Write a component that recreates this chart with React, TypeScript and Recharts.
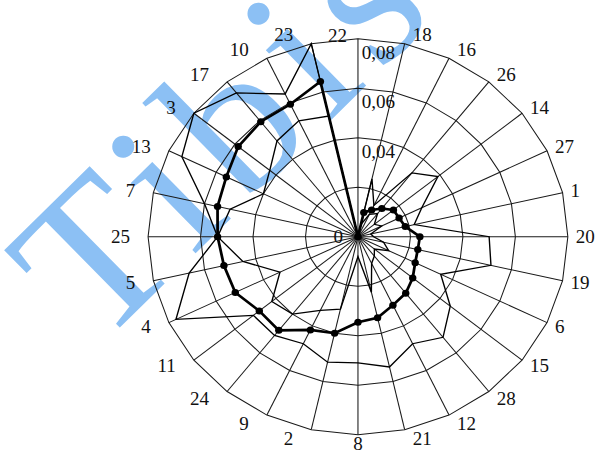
import { RadarChart, Radar, PolarGrid, PolarAngleAxis, PolarRadiusAxis } from 'recharts';

const categories = ['22', '18', '16', '26', '14', '27', '1', '20', '19', '6', '15', '28', '12', '21', '8', '2', '9', '24', '11', '4', '5', '25', '7', '13', '3', '17', '10', '23'];
const meanValues = [0, 0.01, 0.012, 0.0146, 0.0173, 0.0174, 0.0185, 0.0236, 0.0234, 0.0242, 0.0267, 0.0292, 0.0307, 0.0336, 0.0346, 0.04, 0.0418, 0.0484, 0.0481, 0.0519, 0.0524, 0.0535, 0.0549, 0.0557, 0.0584, 0.0594, 0.0594, 0.0643];
const upperValues = [0, 0.024, 0.014, 0.033, 0.039, 0.027, 0.022, 0.05, 0.052, 0.035, 0.045, 0.052, 0.048, 0.054, 0.051, 0.052, 0.048, 0.051, 0.051, 0.077, 0.066, 0.0535, 0.06, 0.0745, 0.08, 0.0743, 0.064, 0.08];
const lowerValues = [0, 0.005, 0.01, 0.012, 0.008, 0.01, 0.005, 0.006, 0.01, 0.013, 0.008, 0.01, 0.012, 0.023, 0.008, 0.03, 0.033, 0.04, 0.042, 0.033, 0.045, 0.0535, 0.05, 0.04, 0.043, 0.0495, 0.052, 0.05];
const radiusTicks = [0, 0.02, 0.04, 0.06, 0.08];
const hiddenTicks = [0.02];

const data = categories.map((cat, i) => ({
  cat,
  mean: meanValues[i],
  upper: upperValues[i],
  lower: lowerValues[i],
}));

// the source picture is stretched a bit horizontally, so the svg is scaled
const SX = 1.06;
const W = 562;
const H = 452;
const CX = 337.7;
const CY = 236.7;
const R = 198;
const FONT = "'Liberation Serif', 'Times New Roman', serif";

function AngleTick(props: any) {
  const { x, y, payload } = props;
  const dx = x - CX;
  const dy = y - CY;
  const d = Math.sqrt(dx * dx + dy * dy) || 1;
  const ux = dx / d;
  const uy = dy / d;
  const tipX = CX + ux * R;
  const tipY = CY + uy * R;
  let tx = tipX;
  let ty = tipY + uy * 9;
  let anchor: 'start' | 'end' | 'middle' = 'middle';
  if (ux > 0.05) {
    anchor = 'start';
    tx = tipX + 8 / SX;
  } else if (ux < -0.05) {
    anchor = 'end';
    tx = tipX - 18 / SX;
  } else if (uy < 0) {
    anchor = 'end';
    tx = tipX - 11 / SX;
    ty = tipY - 3;
  } else {
    ty = tipY + 9;
  }
  return (
    <text x={tx} y={ty} textAnchor={anchor} dominantBaseline="central" fontSize={18} fontFamily={FONT} fill="#111">
      {payload.value}
    </text>
  );
}

function RadiusTick(props: any) {
  const { x, y, payload } = props;
  const v = payload.value;
  if (hiddenTicks.includes(v)) return <g />;
  if (v === 0) {
    return (
      <text x={x - 14} y={y} textAnchor="end" dominantBaseline="central" fontSize={18} fontFamily={FONT} fill="#111">
        0
      </text>
    );
  }
  return (
    <text x={x + 3.5} y={y + 14} textAnchor="start" dominantBaseline="central" fontSize={18} fontFamily={FONT} fill="#111">
      {v.toFixed(2).replace('.', ',')}
    </text>
  );
}

function Marker(props: any) {
  const { cx, cy } = props;
  if (cx == null || cy == null) return <g />;
  return <circle cx={cx} cy={cy} r={3.5} fill="#000" />;
}

export default function App() {
  return (
    <div style={{ position: 'absolute', left: 0, top: 0, width: 595, height: 452, overflow: 'hidden', background: '#fff' }}>
      <svg width={595} height={452} style={{ position: 'absolute', left: 0, top: 0 }}>
        <text x={97} y={350} transform="rotate(-44.5 97 350)" fontSize={208} letterSpacing={14} fontFamily={FONT} fill="#8cc0f4">
          Tibis
        </text>
      </svg>
      <div style={{ position: 'absolute', left: 0, top: 0, transform: `scaleX(${SX})`, transformOrigin: '0 0' }}>
        <RadarChart width={W} height={H} data={data} cx={CX} cy={CY} outerRadius={R} margin={{ top: 0, right: 0, bottom: 0, left: 0 }}>
          <PolarGrid gridType="polygon" stroke="#1a1a1a" strokeWidth={1} />
          <PolarAngleAxis dataKey="cat" tick={<AngleTick />} tickLine={false} axisLine={false} />
          <PolarRadiusAxis
            angle={90}
            domain={[0, 0.08]}
            ticks={radiusTicks as any}
            tickCount={5}
            tick={<RadiusTick />}
            axisLine={false}
            tickLine={false}
          />
          <Radar dataKey="upper" stroke="#000" strokeWidth={1.3} fill="none" fillOpacity={0} dot={false} isAnimationActive={false} />
          <Radar dataKey="lower" stroke="#000" strokeWidth={1.3} fill="none" fillOpacity={0} dot={false} isAnimationActive={false} />
          <Radar dataKey="mean" stroke="#000" strokeWidth={2.6} fill="none" fillOpacity={0} dot={<Marker />} isAnimationActive={false} />
        </RadarChart>
      </div>
    </div>
  );
}
